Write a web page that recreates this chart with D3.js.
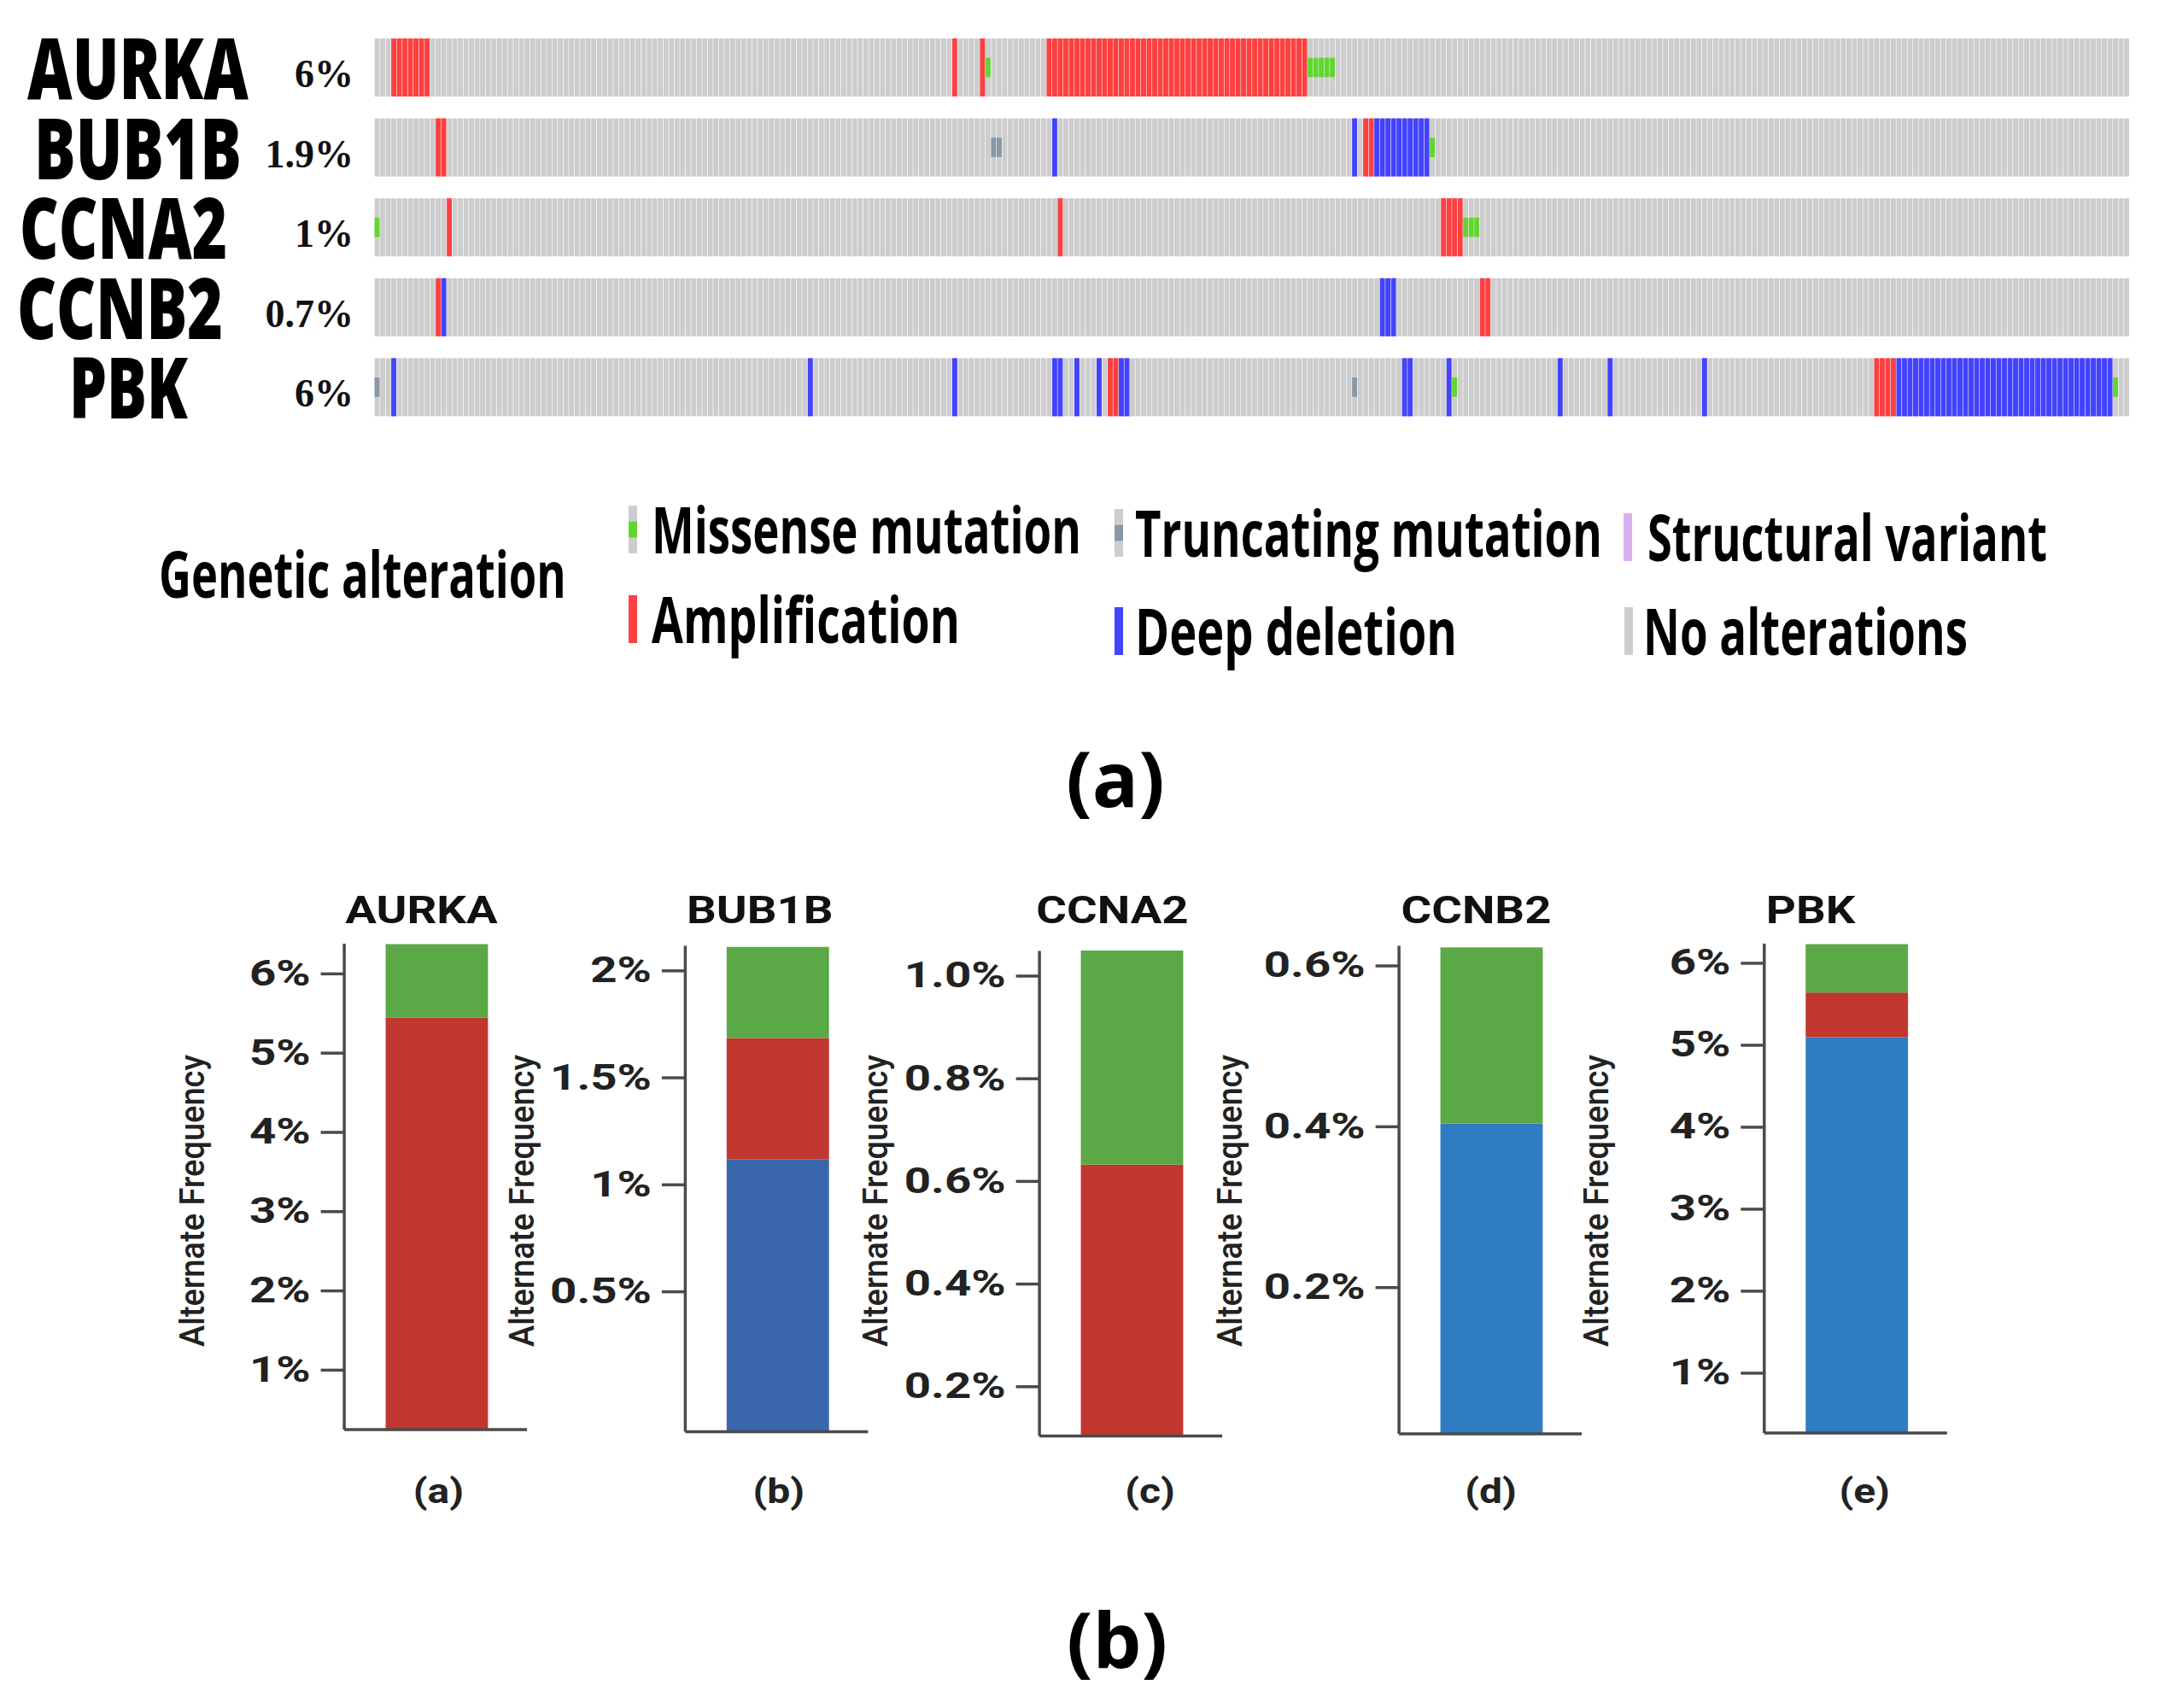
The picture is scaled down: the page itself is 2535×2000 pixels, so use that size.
<!DOCTYPE html>
<html><head><meta charset="utf-8">
<script src="https://cdn.jsdelivr.net/npm/d3@7"></script>
<style>body{margin:0;background:#fff}</style>
</head><body>
<svg id="c" width="2535" height="2000" xmlns="http://www.w3.org/2000/svg"></svg>
<script>
// ---------------- DATA ----------------
const genes = ["AURKA","BUB1B","CCNA2","CCNB2","PBK"];
const alteredPct = ["6%","1.9%","1%","0.7%","6%"];
const nSamples = 316;
// [startSample, endSample(exclusive), type]
const altAURKA = [[3,10,"amp"],[104,105,"amp"],[109,110,"amp"],[110,111,"mis"],[121,168,"amp"],[168,173,"mis"]];
const altBUB1B = [[11,13,"amp"],[111,113,"trunc"],[122,123,"del"],[176,177,"del"],[178,180,"amp"],[180,190,"del"],[190,191,"mis"]];
const altCCNA2 = [[0,1,"mis"],[13,14,"amp"],[123,124,"amp"],[192,196,"amp"],[196,199,"mis"]];
const altCCNB2 = [[11,12,"amp"],[12,13,"del"],[181,184,"del"],[199,201,"amp"]];
const altPBK = [[0,1,"trunc"],[3,4,"del"],[78,79,"del"],[104,105,"del"],[122,124,"del"],[126,127,"del"],[130,131,"del"],[132,134,"amp"],[134,136,"del"],[176,177,"trunc"],[185,187,"del"],[193,194,"del"],[194,195,"mis"],[213,214,"del"],[222,223,"del"],[239,240,"del"],[270,274,"amp"],[274,313,"del"],[313,314,"mis"]];
const legendTitle = "Genetic alteration";
const legendLabels = ["Missense mutation","Truncating mutation","Structural variant","Amplification","Deep deletion","No alterations"];
const legendTypes = ["mis","trunc","sv","amp","del","none"];
const figLabels = ["(a)","(b)"];

const barGenes = ["AURKA","BUB1B","CCNA2","CCNB2","PBK"];
const barLetters = ["(a)","(b)","(c)","(d)","(e)"];
const delFreq = [0, 1.118, 0, 0.4035, 5.095];
const ampFreq = [5.44, 0.566, 0.632, 0, 0.543];
const mutFreq = [0.93, 0.426, 0.417, 0.219, 0.59];
const axisMin = [0.25, -0.154, 0.104, 0.018, 0.269];
const axisMax = [6.38, 2.117, 1.049, 0.625, 6.238];
const tickVals = [[1,2,3,4,5,6],[0.5,1,1.5,2],[0.2,0.4,0.6,0.8,1.0],[0.2,0.4,0.6],[1,2,3,4,5,6]];
const tickLabels = [["1%","2%","3%","4%","5%","6%"],["0.5%","1%","1.5%","2%"],["0.2%","0.4%","0.6%","0.8%","1.0%"],["0.2%","0.4%","0.6%"],["1%","2%","3%","4%","5%","6%"]];
const yAxisTitle = "Alternate Frequency";

// ---------------- LAYOUT / STYLE ----------------
const alts = [altAURKA, altBUB1B, altCCNA2, altCCNB2, altPBK];
const col = {none:"#cdcdcd", amp:"#ff4040", del:"#4242ff", mis:"#62d630", trunc:"#8898aa", sv:"#d9b0ee"};
const geneX = [32,40,23,20,81], geneW = [259,243,243,241,139];
const legPos = [[736,763,648,503],[1305,1329,652,547],[1901,1929,657,468],[736,763,753,361],[1305,1329,767,377],[1902,1924,767,380]];
const panelAxX = [402.6, 801.9, 1216.6, 1637.6, 2065.3];
const panelTop = [1104.6, 1107, 1113, 1107, 1104.6];
const panelBot = [1673.5, 1676, 1681, 1678.6, 1677.6];
const titleDx = [-18,-21,-23,-18,-54];
const letterDx = [2,1,21,-1,9];
const yLabDx = [-178,-191,-192,-198,-197];
const blueByPanel = ["#3a66ae","#3a66ae","#3a66ae","#2f7cc2","#2f7cc2"];
const redBar = "#c1372f", greenBar = "#5ba846";

const svg = d3.select("#c");

// text fitted to a width via a horizontal scale transform (keeps bbox honest)
function fitText(parent, str, x, y, width, font, weight, size, fill) {
  const t = parent.append("text").text(str).attr("x", 0).attr("y", 0)
    .style("font-family", font).style("font-weight", weight).style("font-size", size + "px").attr("fill", fill || "#000");
  const nat = t.node().getComputedTextLength() || width;
  t.attr("transform", `translate(${x},${y}) scale(${width / nat},1)`);
  return t;
}

// ---------------- ONCOPRINT ----------------
const xS = d3.scaleBand().domain(d3.range(nSamples)).range([438.6, 2493]).paddingInner(0.1);
const yS = d3.scaleBand().domain(genes).range([45, 487.4]).paddingInner(0.2735);
const onco = svg.append("g");
genes.forEach((g, gi) => {
  const row = onco.append("g");
  const top = yS(g), h = yS.bandwidth();
  row.selectAll("rect.bg").data(d3.range(nSamples)).join("rect")
    .attr("x", d => xS(d)).attr("y", top).attr("width", xS.bandwidth()).attr("height", h)
    .attr("fill", col.none);
  const cells = [];
  alts[gi].forEach(([s, e, t]) => { for (let i = s; i < e; i++) cells.push({i, t}); });
  row.selectAll("rect.alt").data(cells).join("rect")
    .attr("x", d => xS(d.i)).attr("width", xS.bandwidth())
    .attr("y", d => (d.t === "mis" || d.t === "trunc") ? top + h/3 : top)
    .attr("height", d => (d.t === "mis" || d.t === "trunc") ? h/3 : h)
    .attr("fill", d => col[d.t]);
  fitText(onco, g, geneX[gi], top + 71, geneW[gi], "'Open Sans', sans-serif", 800, 100, "#000");
  onco.append("text").text(alteredPct[gi]).attr("x", 414).attr("y", top + 57).attr("text-anchor", "end")
    .style("font-family", "'Liberation Serif', serif").style("font-weight", "bold").style("font-size", "46px").attr("fill", "#111");
});

// legend
const leg = svg.append("g");
fitText(leg, legendTitle, 186, 700, 477, "'Open Sans', sans-serif", 700, 76, "#000");
legendLabels.forEach((lab, i) => {
  const [gx, tx, by, tw] = legPos[i];
  const t = legendTypes[i];
  const gh = 56, gy = by - 56;
  leg.append("rect").attr("x", gx).attr("y", gy).attr("width", 10).attr("height", gh)
    .attr("fill", (t === "mis" || t === "trunc" || t === "none") ? col.none : col[t]);
  if (t === "mis" || t === "trunc")
    leg.append("rect").attr("x", gx).attr("y", gy + gh/3).attr("width", 10).attr("height", gh/3).attr("fill", col[t]);
  fitText(leg, lab, tx, by, tw, "'Open Sans', sans-serif", 700, 76, "#000");
});
svg.append("text").text(figLabels[0]).attr("x", 1306).attr("y", 945).attr("text-anchor", "middle")
  .style("font-family", "'Open Sans', sans-serif").style("font-weight", 700).style("font-size", "90px");
svg.append("text").text(figLabels[1]).attr("x", 1308).attr("y", 1953).attr("text-anchor", "middle")
  .style("font-family", "'Open Sans', sans-serif").style("font-weight", 700).style("font-size", "90px");

// ---------------- BAR PANELS ----------------
barGenes.forEach((g, p) => {
  const ax = panelAxX[p];
  const y = d3.scaleLinear().domain([axisMin[p], axisMax[p]]).range([panelBot[p], panelTop[p]]).clamp(true);
  const x = d3.scaleBand().domain([g]).range([ax, ax + 214]).paddingInner(0.44).paddingOuter(0.22).align(0.52);
  const pg = svg.append("g");
  const segs = [[delFreq[p], blueByPanel[p]], [ampFreq[p], redBar], [mutFreq[p], greenBar]];
  let cum = 0;
  segs.forEach(([v, c]) => {
    if (v <= 0) return;
    const lower = cum === 0 ? panelBot[p] : y(cum);
    cum += v;
    const upper = y(cum);
    pg.append("rect").attr("x", x(g)).attr("width", x.bandwidth()).attr("y", upper).attr("height", lower - upper).attr("fill", c);
  });
  const yAx = pg.append("g").attr("transform", `translate(${ax},0)`)
    .call(d3.axisLeft(y).tickValues(tickVals[p]).tickFormat((d, i) => tickLabels[p][i]).tickSize(27).tickSizeOuter(0));
  yAx.selectAll("path, line").attr("stroke", "#4a4a4a").attr("stroke-width", 3.5);
  yAx.selectAll("text").attr("x", -39 / 1.3).attr("transform", "scale(1.3,1)")
    .style("font-family", "Roboto, sans-serif").style("font-weight", 700).style("font-size", "42px").attr("fill", "#222");
  const xAx = pg.append("g").attr("transform", `translate(0,${panelBot[p]})`)
    .call(d3.axisBottom(x).tickValues([]).tickSizeOuter(0));
  xAx.selectAll("path").attr("stroke", "#4a4a4a").attr("stroke-width", 3.5);
  const cx = x(g) + x.bandwidth() / 2;
  pg.append("text").text(g).attr("transform", `translate(${cx + titleDx[p]},1081) scale(1.24,1)`).attr("text-anchor", "middle")
    .style("font-family", "Roboto, sans-serif").style("font-weight", 700).style("font-size", "44px").attr("fill", "#111");
  pg.append("text").text(barLetters[p]).attr("transform", `translate(${cx + letterDx[p]},1760) scale(1.2,1)`).attr("text-anchor", "middle")
    .style("font-family", "Roboto, sans-serif").style("font-weight", 700).style("font-size", "40px").attr("fill", "#222");
  pg.append("text").text(yAxisTitle).attr("transform", `translate(${ax + yLabDx[p]},1406) rotate(-90) scale(1,1.25)`)
    .attr("text-anchor", "middle").attr("dominant-baseline", "central").attr("textLength", 342).attr("lengthAdjust", "spacingAndGlyphs")
    .style("font-family", "Roboto, sans-serif").style("font-weight", 500).style("font-size", "33px").attr("fill", "#222");
});
</script>
</body></html>
